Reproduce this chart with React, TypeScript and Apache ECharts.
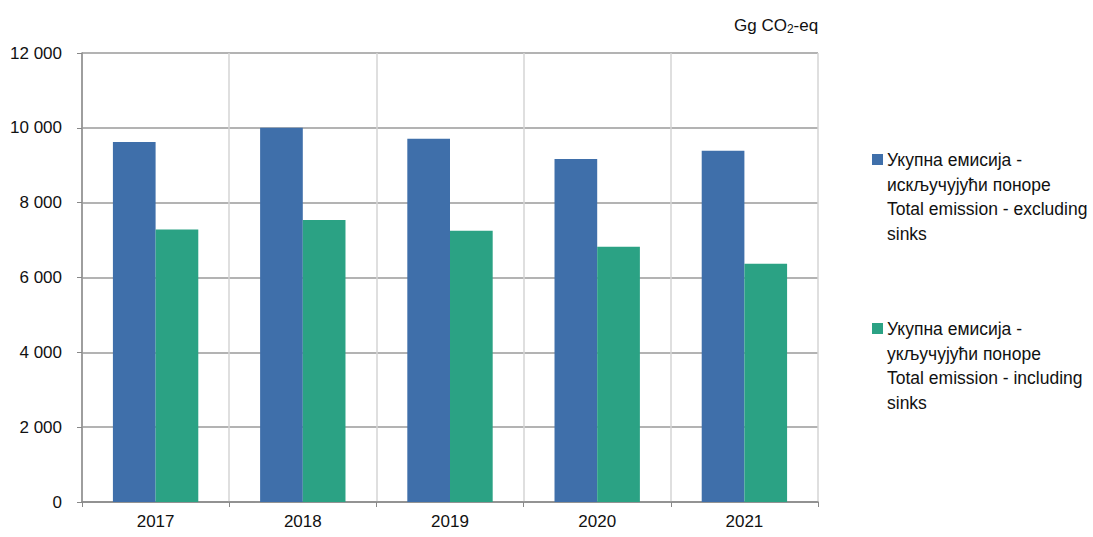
import React, { useEffect, useRef } from "react";
import * as echarts from "echarts";

const years = ["2017", "2018", "2019", "2020", "2021"];
const excludingSinks = [9620, 10000, 9705, 9170, 9385];
const includingSinks = [7280, 7540, 7250, 6825, 6365];
const seriesNames = [
  "Укупна емисија - искључујући поноре Total emission - excluding sinks",
  "Укупна емисија - укључујући поноре Total emission - including sinks",
];
const legendLines = [
  ["Укупна емисија -", "искључујући поноре", "Total emission - excluding", "sinks"],
  ["Укупна емисија -", "укључујући поноре", "Total emission - including", "sinks"],
];
const colors = ["#3F6FAA", "#2BA284"];
const FONT = "'Liberation Sans', Arial, sans-serif";
const FS = 17;

export default function App() {
  const ref = useRef<HTMLDivElement>(null);
  useEffect(() => {
    if (!ref.current) return;
    const chart = echarts.init(ref.current, null, { renderer: "svg" });
    const legendGraphics: any[] = [];
    const legendTops = [148, 317];
    legendLines.forEach((lines, i) => {
      legendGraphics.push({
        type: "rect",
        left: 872,
        top: legendTops[i] + 6,
        shape: { width: 11, height: 11 },
        style: { fill: colors[i] },
      });
      legendGraphics.push({
        type: "text",
        left: 887,
        top: legendTops[i],
        style: {
          text: lines.join("\n"),
          font: `17.5px ${FONT}`,
          lineHeight: 24.5,
          fill: "#111",
        },
      });
    });
    chart.setOption({
      animation: false,
      textStyle: { fontFamily: FONT },
      title: {
        text: "Gg CO{sub|2}-eq",
        left: 729,
        top: 10,
        textStyle: {
          fontFamily: FONT,
          fontSize: FS,
          fontWeight: "normal",
          color: "#111",
          rich: {
            sub: { fontSize: 12, verticalAlign: "bottom", padding: [8, 0, 0, 0], fontFamily: FONT, color: "#111" },
          },
        },
      },
      grid: { left: 82, right: 275, top: 53, bottom: 35, containLabel: false },
      xAxis: {
        type: "category",
        data: years,
        axisLine: { lineStyle: { color: "#888", width: 1.5 } },
        axisTick: { show: true, length: 5, lineStyle: { color: "#888" } },
        axisLabel: { fontSize: FS, color: "#111", fontFamily: FONT, margin: 11 },
        splitLine: { show: true, lineStyle: { color: "#d4d4d4", width: 1.5 } },
      },
      yAxis: {
        type: "value",
        min: 0,
        max: 12000,
        interval: 2000,
        axisLine: { show: true, lineStyle: { color: "#888", width: 1.5 } },
        axisTick: { show: true, length: 5, lineStyle: { color: "#888" } },
        axisLabel: {
          fontSize: FS,
          color: "#111",
          fontFamily: FONT,
          margin: 20,
          formatter: (v: number) => v.toLocaleString("en-US").replace(/,/g, " "),
        },
        splitLine: { show: true, lineStyle: { color: "#9a9a9a", width: 1.5 } },
      },
      series: [
        {
          name: seriesNames[0],
          type: "bar",
          data: excludingSinks,
          itemStyle: { color: colors[0] },
          barGap: "0%",
          barCategoryGap: "42%",
        },
        {
          name: seriesNames[1],
          type: "bar",
          data: includingSinks,
          itemStyle: { color: colors[1] },
          barGap: "0%",
          barCategoryGap: "42%",
        },
      ],
      graphic: legendGraphics,
    });
    return () => chart.dispose();
  }, []);
  return <div ref={ref} style={{ width: 1093, height: 537, position: "absolute", left: 0, top: 0 }} />;
}
